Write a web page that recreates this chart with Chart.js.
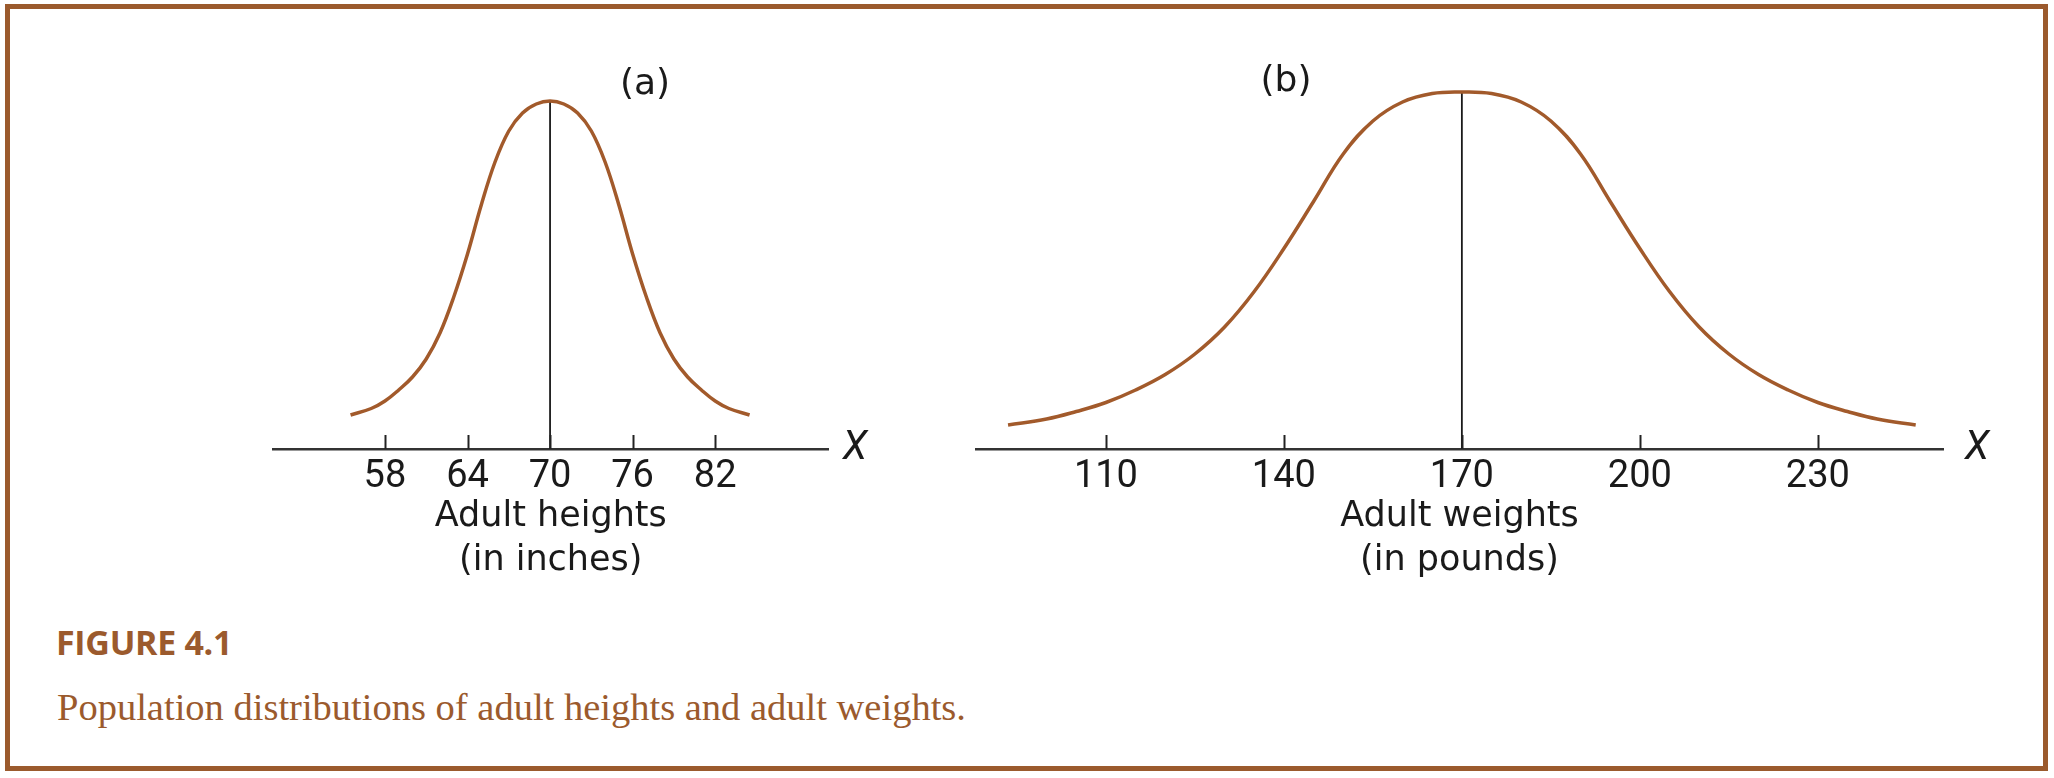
<!DOCTYPE html>
<html>
<head>
<meta charset="utf-8">
<script src="https://cdn.jsdelivr.net/npm/chart.js@4.4.1/dist/chart.umd.min.js"></script>
<style>
  body { margin: 0; background: #fff; width: 2054px; height: 778px; overflow: hidden; position: relative; }
  .frame { position: absolute; left: 5px; top: 4px; width: 2043px; height: 767px; box-sizing: border-box; border: 5px solid #9b5a2d; }
  .box { position: absolute; top: 0; height: 600px; }
  .panel { position: absolute; font-family: "DejaVu Sans", sans-serif; font-size: 36px; color: #1a1a1a; transform: translate(-50%, -50%); line-height: 1; }
  .fig { position: absolute; left: 56px; top: 625px; font-family: "Open Sans", sans-serif; font-weight: 700; font-size: 34px; line-height: 34px; color: #9b5a2d; letter-spacing: -0.3px; }
  .cap { position: absolute; left: 57px; top: 688px; font-family: "Liberation Serif", serif; font-size: 38.5px; line-height: 38.5px; color: #9b5a2d; }
</style>
</head>
<body>
<div class="frame"></div>
<div class="box" style="left:0;width:940px"><canvas id="heights" width="940" height="600"></canvas></div>
<div class="box" style="left:940px;width:1114px"><canvas id="weights" width="1114" height="600"></canvas></div>
<div class="panel" style="left:645px;top:82px">(a)</div>
<div class="panel" style="left:1286px;top:79px">(b)</div>
<div class="fig">FIGURE 4.1</div>
<div class="cap">Population distributions of adult heights and adult weights.</div>

<script>
// (a) adult heights, inches -> curve height
const heightX = [55.5, 57, 58, 59, 60, 61, 62, 63, 64, 65, 66, 67, 68, 69, 70,
  71, 72, 73, 74, 75, 76, 77, 78, 79, 80, 81, 82, 83, 84.5];
const heightY = [34, 40.5, 48, 59, 72, 90, 116, 152, 195, 244, 287, 318, 336, 345, 348,
  345, 336, 318, 287, 244, 195, 152, 116, 90, 72, 59, 48, 40.5, 34];
const heightTicks = [58, 64, 70, 76, 82];
const heightMean = 70;

// (b) adult weights, pounds
const weightX = [93.5, 100, 105, 110, 115, 120, 125, 130, 135, 140, 145, 150, 155, 160, 165, 170,
  175, 180, 185, 190, 195, 200, 205, 210, 215, 220, 225, 230, 235, 240, 246.5];
const weightY = [24, 30, 37.5, 46.5, 59, 74.5, 95, 122, 157.5, 200.5, 247.5, 295, 328, 347, 355.5, 357,
  355.5, 347, 328, 295, 247.5, 200.5, 157.5, 122, 95, 74.5, 59, 46.5, 37.5, 30, 24];
const weightTicks = [110, 140, 170, 200, 230];
const weightMean = 170;

const brown = "#a25a2b";
const ink = "#1a1a1a";

// tick marks stand above the axis line, plus the X at the end of the axis
const innerTicks = {
  id: "innerTicks",
  afterDatasetsDraw(chart, args, opts) {
    const s = chart.scales.x;
    const ctx = chart.ctx;
    ctx.save();
    ctx.strokeStyle = "#222";
    ctx.lineWidth = 2;
    s.ticks.forEach((t) => {
      const px = Math.round(s.getPixelForValue(t.value)) + 0.5;
      ctx.beginPath();
      ctx.moveTo(px, s.top);
      ctx.lineTo(px, s.top - 14);
      ctx.stroke();
    });
    ctx.fillStyle = ink;
    ctx.font = "italic 40px Roboto";
    ctx.textAlign = "center";
    ctx.textBaseline = "middle";
    ctx.fillText("X", s.right + opts.gap, s.top);
    ctx.restore();
  },
};

function makeChart(id, xs, ys, ticks, mean, range, pad, title, gap) {
  const curve = xs.map((x, i) => ({ x: x, y: ys[i] }));
  const peak = Math.max(...ys);
  return new Chart(document.getElementById(id), {
    type: "line",
    data: {
      datasets: [
        {
          data: curve,
          borderColor: brown,
          borderWidth: 3.5,
          pointRadius: 0,
          tension: 0.4,
          fill: false,
        },
        {
          data: [{ x: mean, y: 0 }, { x: mean, y: peak }],
          borderColor: ink,
          borderWidth: 1.8,
          pointRadius: 0,
        },
      ],
    },
    options: {
      responsive: false,
      animation: false,
      layout: { padding: { left: pad[0], right: pad[1], top: 49, bottom: 17 } },
      plugins: { legend: { display: false }, tooltip: { enabled: false }, innerTicks: { gap: gap } },
      scales: {
        x: {
          type: "linear",
          min: range[0],
          max: range[1],
          afterBuildTicks: (s) => { s.ticks = ticks.map((v) => ({ value: v })); },
          afterFit: (s) => { s.height = 134; },
          grid: { display: false, drawTicks: false },
          border: { display: true, color: "#333", width: 2.5 },
          ticks: {
            autoSkip: false,
            maxRotation: 0,
            padding: 6,
            color: ink,
            font: { family: "Roboto", size: 38, lineHeight: 1.2 },
          },
          title: {
            display: true,
            text: title,
            color: ink,
            padding: 0,
            font: { family: "DejaVu Sans", size: 35, lineHeight: 44 / 35 },
          },
        },
        y: { display: false, min: 0, max: 400 },
      },
    },
    plugins: [innerTicks],
  });
}

makeChart("heights", heightX, heightY, heightTicks, heightMean, [49.9, 90.2], [273.5, 112],
  ["Adult heights", "(in inches)"], 27);
makeChart("weights", weightX, weightY, weightTicks, weightMean, [88.1, 251.1], [36, 111],
  ["Adult weights", "(in pounds)"], 34);
</script>
</body>
</html>
